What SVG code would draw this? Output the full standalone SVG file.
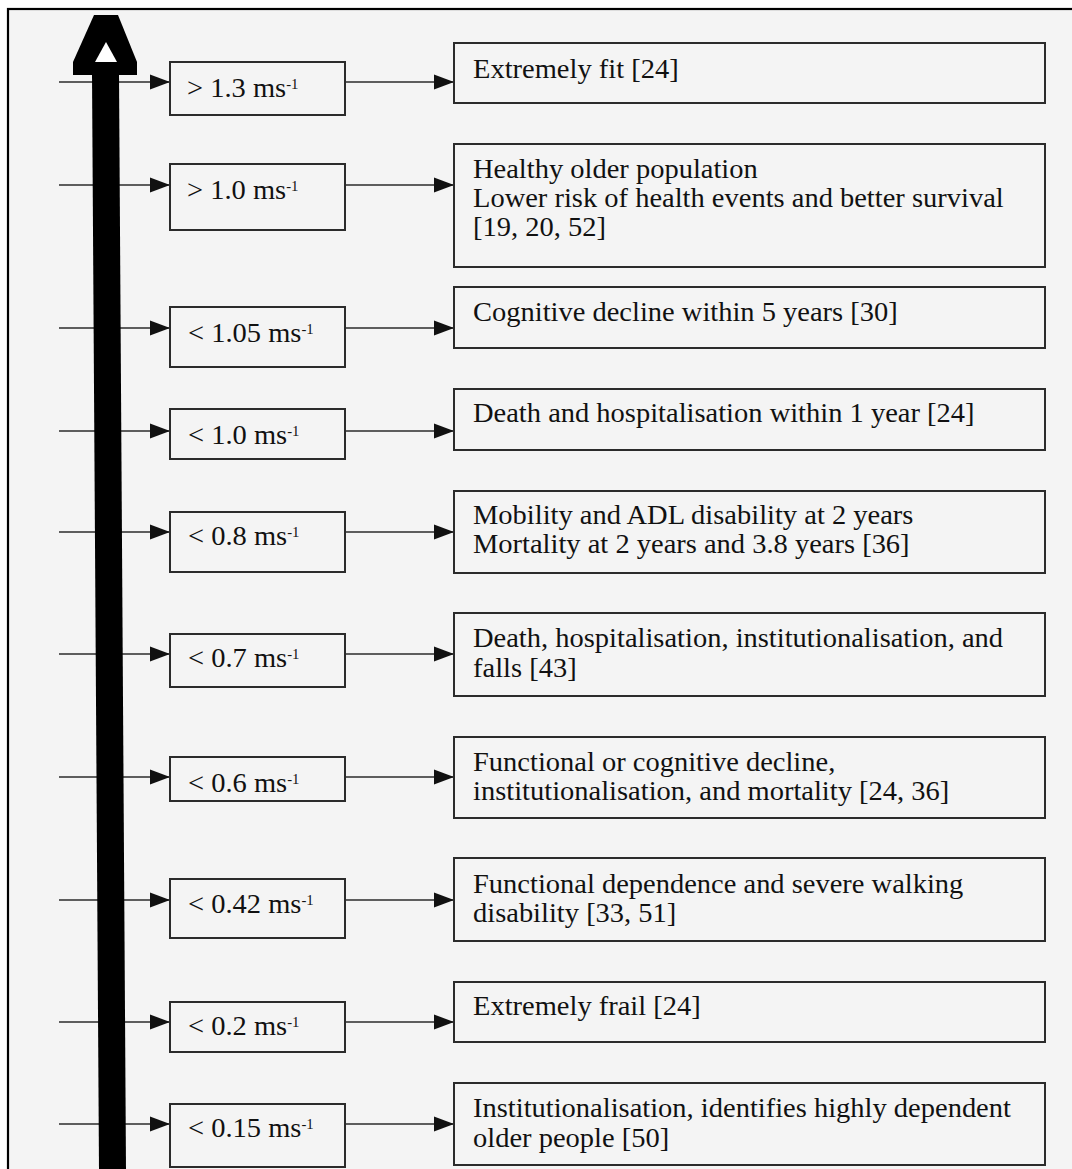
<svg xmlns="http://www.w3.org/2000/svg" width="1072" height="1169" viewBox="0 0 1072 1169">
  <defs>
    <marker id="ah" markerUnits="userSpaceOnUse" markerWidth="20" markerHeight="16" viewBox="0 0 20 16" refX="20" refY="8" orient="auto">
      <path d="M0,0.5 L20,8 L0,15.5 z" fill="#111"/>
    </marker>
    <style>
      .box { fill: #f4f4f4; stroke: #2b2b2b; stroke-width: 2; }
      .con { stroke: #2b2b2b; stroke-width: 1.6; fill: none; }
      .t { font-family: "Liberation Serif", "Times New Roman", serif; font-size: 27px; fill: #111; }
      .sup { font-size: 14px; }
    </style>
  </defs>
  <rect x="0" y="0" width="1072" height="1169" fill="#ffffff"/>
  <rect x="8" y="9" width="1080" height="1200" fill="#f4f4f4" stroke="#000" stroke-width="2.2"/>

  <g id="connectors">
    <line class="con" x1="59" y1="82" x2="170" y2="82" marker-end="url(#ah)"/>
    <line class="con" x1="345" y1="82" x2="454" y2="82" marker-end="url(#ah)"/>
    <line class="con" x1="59" y1="185" x2="170" y2="185" marker-end="url(#ah)"/>
    <line class="con" x1="345" y1="185" x2="454" y2="185" marker-end="url(#ah)"/>
    <line class="con" x1="59" y1="328" x2="170" y2="328" marker-end="url(#ah)"/>
    <line class="con" x1="345" y1="328" x2="454" y2="328" marker-end="url(#ah)"/>
    <line class="con" x1="59" y1="431" x2="170" y2="431" marker-end="url(#ah)"/>
    <line class="con" x1="345" y1="431" x2="454" y2="431" marker-end="url(#ah)"/>
    <line class="con" x1="59" y1="532" x2="170" y2="532" marker-end="url(#ah)"/>
    <line class="con" x1="345" y1="532" x2="454" y2="532" marker-end="url(#ah)"/>
    <line class="con" x1="59" y1="654" x2="170" y2="654" marker-end="url(#ah)"/>
    <line class="con" x1="345" y1="654" x2="454" y2="654" marker-end="url(#ah)"/>
    <line class="con" x1="59" y1="777" x2="170" y2="777" marker-end="url(#ah)"/>
    <line class="con" x1="345" y1="777" x2="454" y2="777" marker-end="url(#ah)"/>
    <line class="con" x1="59" y1="900" x2="170" y2="900" marker-end="url(#ah)"/>
    <line class="con" x1="345" y1="900" x2="454" y2="900" marker-end="url(#ah)"/>
    <line class="con" x1="59" y1="1022" x2="170" y2="1022" marker-end="url(#ah)"/>
    <line class="con" x1="345" y1="1022" x2="454" y2="1022" marker-end="url(#ah)"/>
    <line class="con" x1="59" y1="1124" x2="170" y2="1124" marker-end="url(#ah)"/>
    <line class="con" x1="345" y1="1124" x2="454" y2="1124" marker-end="url(#ah)"/>
  </g>

  <g id="axis">
    <polygon points="92,74 119,74 126,1169 99,1169" fill="#000"/>
    <polygon points="94,15 118,15 137,62 137,75 73,75 73,62" fill="#000"/>
    <polygon points="106,42 117,62 95,62" fill="#ffffff"/>
  </g>

  <g id="speed-1">
    <rect class="box" x="170" y="62" width="175" height="53"/>
    <text class="t" transform="translate(187,97) scale(1.055,1)">&gt; 1.3 ms<tspan class="sup" dy="-8">-1</tspan></text>
  </g>
  <g id="outcome-1">
    <rect class="box" x="454" y="43" width="591" height="60"/>
    <text class="t" transform="translate(473,0) scale(1.055,1)"><tspan x="0" y="78">Extremely fit [24]</tspan></text>
  </g>

  <g id="speed-2">
    <rect class="box" x="170" y="164" width="175" height="66"/>
    <text class="t" transform="translate(187,199) scale(1.055,1)">&gt; 1.0 ms<tspan class="sup" dy="-8">-1</tspan></text>
  </g>
  <g id="outcome-2">
    <rect class="box" x="454" y="144" width="591" height="123"/>
    <text class="t" transform="translate(473,0) scale(1.055,1)"><tspan x="0" y="178">Healthy older population</tspan><tspan x="0" y="207">Lower risk of health events and better survival</tspan><tspan x="0" y="236">[19, 20, 52]</tspan></text>
  </g>

  <g id="speed-3">
    <rect class="box" x="170" y="307" width="175" height="60"/>
    <text class="t" transform="translate(188,342) scale(1.055,1)">&lt; 1.05 ms<tspan class="sup" dy="-8">-1</tspan></text>
  </g>
  <g id="outcome-3">
    <rect class="box" x="454" y="287" width="591" height="61"/>
    <text class="t" transform="translate(473,0) scale(1.055,1)"><tspan x="0" y="321">Cognitive decline within 5 years [30]</tspan></text>
  </g>

  <g id="speed-4">
    <rect class="box" x="170" y="409" width="175" height="50"/>
    <text class="t" transform="translate(188,444) scale(1.055,1)">&lt; 1.0 ms<tspan class="sup" dy="-8">-1</tspan></text>
  </g>
  <g id="outcome-4">
    <rect class="box" x="454" y="389" width="591" height="61"/>
    <text class="t" transform="translate(473,0) scale(1.055,1)"><tspan x="0" y="422">Death and hospitalisation within 1 year [24]</tspan></text>
  </g>

  <g id="speed-5">
    <rect class="box" x="170" y="512" width="175" height="60"/>
    <text class="t" transform="translate(188,545) scale(1.055,1)">&lt; 0.8 ms<tspan class="sup" dy="-8">-1</tspan></text>
  </g>
  <g id="outcome-5">
    <rect class="box" x="454" y="491" width="591" height="82"/>
    <text class="t" transform="translate(473,0) scale(1.055,1)"><tspan x="0" y="524">Mobility and ADL disability at 2 years</tspan><tspan x="0" y="553">Mortality at 2 years and 3.8 years [36]</tspan></text>
  </g>

  <g id="speed-6">
    <rect class="box" x="170" y="634" width="175" height="53"/>
    <text class="t" transform="translate(188,667) scale(1.055,1)">&lt; 0.7 ms<tspan class="sup" dy="-8">-1</tspan></text>
  </g>
  <g id="outcome-6">
    <rect class="box" x="454" y="613" width="591" height="83"/>
    <text class="t" transform="translate(473,0) scale(1.055,1)"><tspan x="0" y="647">Death, hospitalisation, institutionalisation, and</tspan><tspan x="0" y="677">falls [43]</tspan></text>
  </g>

  <g id="speed-7">
    <rect class="box" x="170" y="757" width="175" height="44"/>
    <text class="t" transform="translate(188,792) scale(1.055,1)">&lt; 0.6 ms<tspan class="sup" dy="-8">-1</tspan></text>
  </g>
  <g id="outcome-7">
    <rect class="box" x="454" y="737" width="591" height="81"/>
    <text class="t" transform="translate(473,0) scale(1.055,1)"><tspan x="0" y="771">Functional or cognitive decline,</tspan><tspan x="0" y="800">institutionalisation, and mortality [24, 36]</tspan></text>
  </g>

  <g id="speed-8">
    <rect class="box" x="170" y="879" width="175" height="59"/>
    <text class="t" transform="translate(188,913) scale(1.055,1)">&lt; 0.42 ms<tspan class="sup" dy="-8">-1</tspan></text>
  </g>
  <g id="outcome-8">
    <rect class="box" x="454" y="858" width="591" height="83"/>
    <text class="t" transform="translate(473,0) scale(1.055,1)"><tspan x="0" y="893">Functional dependence and severe walking</tspan><tspan x="0" y="922">disability [33, 51]</tspan></text>
  </g>

  <g id="speed-9">
    <rect class="box" x="170" y="1002" width="175" height="50"/>
    <text class="t" transform="translate(188,1035) scale(1.055,1)">&lt; 0.2 ms<tspan class="sup" dy="-8">-1</tspan></text>
  </g>
  <g id="outcome-9">
    <rect class="box" x="454" y="982" width="591" height="60"/>
    <text class="t" transform="translate(473,0) scale(1.055,1)"><tspan x="0" y="1015">Extremely frail [24]</tspan></text>
  </g>

  <g id="speed-10">
    <rect class="box" x="170" y="1104" width="175" height="63"/>
    <text class="t" transform="translate(188,1137) scale(1.055,1)">&lt; 0.15 ms<tspan class="sup" dy="-8">-1</tspan></text>
  </g>
  <g id="outcome-10">
    <rect class="box" x="454" y="1083" width="591" height="82"/>
    <text class="t" transform="translate(473,0) scale(1.055,1)"><tspan x="0" y="1117">Institutionalisation, identifies highly dependent</tspan><tspan x="0" y="1147">older people [50]</tspan></text>
  </g>
</svg>
